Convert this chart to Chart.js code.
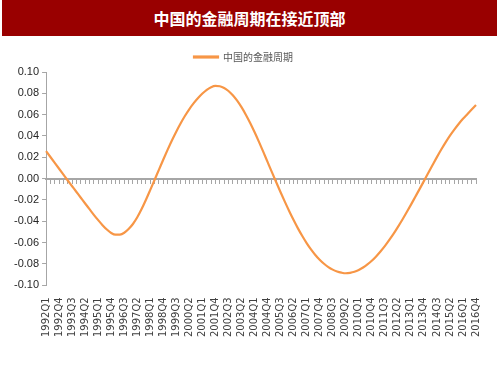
<!DOCTYPE html>
<html>
<head>
<meta charset="utf-8">
<script src="https://cdn.jsdelivr.net/npm/chart.js@4.4.0/dist/chart.umd.min.js"></script>
<style>
  body { margin: 0; background: #fff; }
  #wrap { position: relative; width: 500px; height: 375px; }
  #titleBar {
    position: absolute; left: 2px; top: 0; width: 495px; height: 36px;
    background: #990000; color: #fff; text-align: center;
    font: bold 16px "Noto Sans CJK SC", sans-serif; line-height: 36px;
  }
</style>
</head>
<body>
<div id="wrap">
  <canvas id="cycleChart"></canvas>
  <div id="titleBar">中国的金融周期在接近顶部</div>
</div>
<script>
const SERIES_NAME = '中国的金融周期';

const quarters = [
    '1992Q1','1992Q2','1992Q3','1992Q4','1993Q1','1993Q2','1993Q3','1993Q4',
    '1994Q1','1994Q2','1994Q3','1994Q4','1995Q1','1995Q2','1995Q3','1995Q4',
    '1996Q1','1996Q2','1996Q3','1996Q4','1997Q1','1997Q2','1997Q3','1997Q4',
    '1998Q1','1998Q2','1998Q3','1998Q4','1999Q1','1999Q2','1999Q3','1999Q4',
    '2000Q1','2000Q2','2000Q3','2000Q4','2001Q1','2001Q2','2001Q3','2001Q4',
    '2002Q1','2002Q2','2002Q3','2002Q4','2003Q1','2003Q2','2003Q3','2003Q4',
    '2004Q1','2004Q2','2004Q3','2004Q4','2005Q1','2005Q2','2005Q3','2005Q4',
    '2006Q1','2006Q2','2006Q3','2006Q4','2007Q1','2007Q2','2007Q3','2007Q4',
    '2008Q1','2008Q2','2008Q3','2008Q4','2009Q1','2009Q2','2009Q3','2009Q4',
    '2010Q1','2010Q2','2010Q3','2010Q4','2011Q1','2011Q2','2011Q3','2011Q4',
    '2012Q1','2012Q2','2012Q3','2012Q4','2013Q1','2013Q2','2013Q3','2013Q4',
    '2014Q1','2014Q2','2014Q3','2014Q4','2015Q1','2015Q2','2015Q3','2015Q4',
    '2016Q1','2016Q2','2016Q3','2016Q4',
];

// one value per quarter
const cycleValues = [
    0.0258, 0.0203, 0.0148, 0.0093, 0.0038, -0.0017, -0.0071, -0.0125,
    -0.0179, -0.0233, -0.0286, -0.0339, -0.0389, -0.0436, -0.0477, -0.0509,
    -0.0525, -0.0524, -0.0507, -0.0472, -0.0425, -0.0362, -0.0285, -0.0198,
    -0.0105, -0.0010, 0.0085, 0.0180, 0.0272, 0.0360, 0.0443, 0.0520,
    0.0590, 0.0653, 0.0708, 0.0756, 0.0798, 0.0833, 0.0858, 0.0870,
    0.0866, 0.0850, 0.0822, 0.0782, 0.0731, 0.0670, 0.0600, 0.0522,
    0.0437, 0.0347, 0.0253, 0.0157, 0.0061, -0.0034, -0.0127, -0.0218,
    -0.0305, -0.0388, -0.0466, -0.0538, -0.0604, -0.0663, -0.0715, -0.0760,
    -0.0798, -0.0829, -0.0853, -0.0870, -0.0881, -0.0887, -0.0883, -0.0873,
    -0.0856, -0.0833, -0.0804, -0.0770, -0.0729, -0.0683, -0.0633, -0.0577,
    -0.0518, -0.0454, -0.0388, -0.0318, -0.0246, -0.0172, -0.0098, -0.0023,
    0.0053, 0.0128, 0.0202, 0.0273, 0.0340, 0.0403, 0.0460, 0.0513,
    0.0561, 0.0605, 0.0648, 0.0690,
];

const Y_MIN = -0.10;
const Y_MAX = 0.10;
const Y_STEP = 0.02;
const LABEL_EVERY = 3;

const LINE_COLOR = '#f79646';
const AXIS_COLOR = '#a6a6a6';

Chart.defaults.font.family = '"Liberation Sans Narrow", "Liberation Sans", sans-serif';

new Chart(document.getElementById('cycleChart'), {
    type: 'line',
    data: {
        labels: quarters,
        datasets: [{
            label: SERIES_NAME,
            data: cycleValues,
            borderColor: LINE_COLOR,
            backgroundColor: LINE_COLOR,
            borderWidth: 2.2,
            pointRadius: 0,
            cubicInterpolationMode: 'monotone',
            fill: false,
        }],
    },
    options: {
        responsive: true,
        maintainAspectRatio: false,
        animation: false,
        layout: { padding: { top: 45, left: 11, right: 24, bottom: 34 } },
        plugins: {
            legend: {
                position: 'top',
                labels: {
                    boxWidth: 24,
                    boxHeight: 1,
                    padding: 7,
                    color: '#595959',
                    font: { family: '"Noto Sans CJK SC", sans-serif', size: 10 },
                },
            },
            tooltip: { enabled: false },
        },
        scales: {
            x: {
                type: 'category',
                offset: false,
                grid: { display: false },
                border: { display: false },
                ticks: {
                    autoSkip: false,
                    minRotation: 90,
                    maxRotation: 90,
                    padding: 4,
                    color: '#404040',
                    font: { family: '"DejaVu Sans", sans-serif', size: 10 },
                    callback: (v, i) => (i % LABEL_EVERY === 0 ? quarters[i] : ''),
                },
            },
            // zero line with a tick per quarter
            xZero: {
                type: 'category',
                position: { y: 0 },
                offset: false,
                grid: {
                    display: true,
                    drawOnChartArea: false,
                    drawTicks: true,
                    tickLength: 4,
                    color: AXIS_COLOR,
                },
                border: { display: true, color: AXIS_COLOR, width: 2 },
                ticks: { display: false, autoSkip: false },
            },
            y: {
                min: Y_MIN,
                max: Y_MAX,
                grid: {
                    display: true,
                    drawOnChartArea: false,
                    drawTicks: true,
                    tickLength: 4,
                    color: AXIS_COLOR,
                },
                border: { display: true, color: AXIS_COLOR, width: 1 },
                ticks: {
                    stepSize: Y_STEP,
                    padding: 3,
                    color: '#262626',
                    font: { size: 11 },
                    callback: (v) => v.toFixed(2),
                },
            },
        },
    },
});
</script>
</body>
</html>
